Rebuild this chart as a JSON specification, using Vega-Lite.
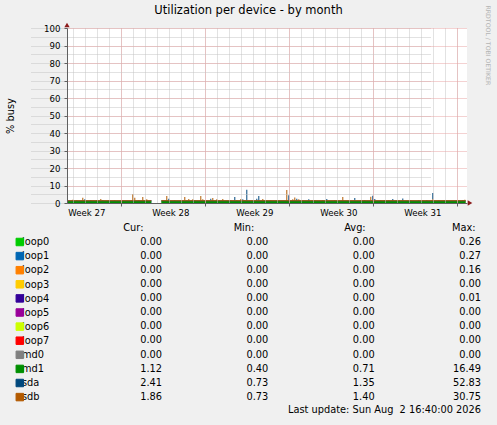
{
  "$schema": "https://vega.github.io/schema/vega-lite/v6.json",
  "width": 497,
  "height": 425,
  "padding": 0,
  "autosize": {"type": "none"},
  "background": "#f0f0f0",
  "config": {"font": "DejaVu Sans", "view": {"stroke": null, "fill": null}},
  "title": {
    "text": "Utilization per device - by month",
    "anchor": "middle", "frame": "group", "offset": 0, "dy": 25,
    "baseline": "alphabetic", "fontSize": 11.5, "fontWeight": "normal", "color": "#000000"
  },
  "datasets": {
    "spikes": [
      {"dev": "sda", "t": "2026-07-01T20:00:00Z", "v": 2.1},
      {"dev": "sda", "t": "2026-07-02T08:00:00Z", "v": 1.7},
      {"dev": "sda", "t": "2026-07-03T08:00:00Z", "v": 1.7},
      {"dev": "sda", "t": "2026-07-07T08:00:00Z", "v": 1.7},
      {"dev": "sda", "t": "2026-07-08T20:00:00Z", "v": 2.5},
      {"dev": "sda", "t": "2026-07-10T08:00:00Z", "v": 1.5},
      {"dev": "sda", "t": "2026-07-11T00:00:00Z", "v": 1.7},
      {"dev": "sda", "t": "2026-07-12T08:00:00Z", "v": 2.5},
      {"dev": "sda", "t": "2026-07-14T00:00:00Z", "v": 1.7},
      {"dev": "sda", "t": "2026-07-14T08:00:00Z", "v": 3.4},
      {"dev": "sda", "t": "2026-07-15T00:00:00Z", "v": 2.1},
      {"dev": "sda", "t": "2026-07-15T08:00:00Z", "v": 7.6},
      {"dev": "sda", "t": "2026-07-16T04:00:00Z", "v": 2.5},
      {"dev": "sda", "t": "2026-07-16T08:00:00Z", "v": 4.0},
      {"dev": "sda", "t": "2026-07-18T20:00:00Z", "v": 4.4},
      {"dev": "sda", "t": "2026-07-19T12:00:00Z", "v": 2.5},
      {"dev": "sda", "t": "2026-07-20T12:00:00Z", "v": 2.2},
      {"dev": "sda", "t": "2026-07-21T16:00:00Z", "v": 1.7},
      {"dev": "sda", "t": "2026-07-22T00:00:00Z", "v": 2.3},
      {"dev": "sda", "t": "2026-07-24T08:00:00Z", "v": 2.9},
      {"dev": "sda", "t": "2026-07-25T04:00:00Z", "v": 1.7},
      {"dev": "sda", "t": "2026-07-25T20:00:00Z", "v": 4.2},
      {"dev": "sda", "t": "2026-07-26T00:00:00Z", "v": 2.3},
      {"dev": "sda", "t": "2026-07-27T12:00:00Z", "v": 2.3},
      {"dev": "sda", "t": "2026-07-28T08:00:00Z", "v": 2.6},
      {"dev": "sda", "t": "2026-07-29T16:00:00Z", "v": 1.7},
      {"dev": "sda", "t": "2026-07-30T08:00:00Z", "v": 1.7},
      {"dev": "sda", "t": "2026-07-30T20:00:00Z", "v": 3.6},
      {"dev": "sda", "t": "2026-08-02T08:00:00Z", "v": 1.7},
      {"dev": "sdb", "t": "2026-06-30T20:00:00Z", "v": 1.9},
      {"dev": "sdb", "t": "2026-07-01T04:00:00Z", "v": 1.7},
      {"dev": "sdb", "t": "2026-07-01T16:00:00Z", "v": 3.0},
      {"dev": "sdb", "t": "2026-07-02T20:00:00Z", "v": 1.7},
      {"dev": "sdb", "t": "2026-07-03T04:00:00Z", "v": 2.3},
      {"dev": "sdb", "t": "2026-07-03T20:00:00Z", "v": 1.7},
      {"dev": "sdb", "t": "2026-07-04T08:00:00Z", "v": 1.7},
      {"dev": "sdb", "t": "2026-07-05T20:00:00Z", "v": 5.1},
      {"dev": "sdb", "t": "2026-07-06T00:00:00Z", "v": 3.0},
      {"dev": "sdb", "t": "2026-07-06T08:00:00Z", "v": 1.7},
      {"dev": "sdb", "t": "2026-07-06T16:00:00Z", "v": 3.4},
      {"dev": "sdb", "t": "2026-07-07T00:00:00Z", "v": 2.1},
      {"dev": "sdb", "t": "2026-07-08T16:00:00Z", "v": 4.0},
      {"dev": "sdb", "t": "2026-07-09T08:00:00Z", "v": 1.7},
      {"dev": "sdb", "t": "2026-07-10T04:00:00Z", "v": 3.4},
      {"dev": "sdb", "t": "2026-07-10T12:00:00Z", "v": 2.3},
      {"dev": "sdb", "t": "2026-07-10T20:00:00Z", "v": 2.1},
      {"dev": "sdb", "t": "2026-07-11T12:00:00Z", "v": 4.0},
      {"dev": "sdb", "t": "2026-07-11T16:00:00Z", "v": 2.1},
      {"dev": "sdb", "t": "2026-07-12T12:00:00Z", "v": 2.9},
      {"dev": "sdb", "t": "2026-07-12T20:00:00Z", "v": 2.1},
      {"dev": "sdb", "t": "2026-07-13T08:00:00Z", "v": 2.3},
      {"dev": "sdb", "t": "2026-07-14T12:00:00Z", "v": 1.7},
      {"dev": "sdb", "t": "2026-07-14T20:00:00Z", "v": 2.3},
      {"dev": "sdb", "t": "2026-07-15T04:00:00Z", "v": 1.7},
      {"dev": "sdb", "t": "2026-07-16T16:00:00Z", "v": 2.3},
      {"dev": "sdb", "t": "2026-07-17T08:00:00Z", "v": 1.7},
      {"dev": "sdb", "t": "2026-07-18T16:00:00Z", "v": 7.4},
      {"dev": "sdb", "t": "2026-07-19T04:00:00Z", "v": 2.1},
      {"dev": "sdb", "t": "2026-07-19T08:00:00Z", "v": 3.2},
      {"dev": "sdb", "t": "2026-07-19T16:00:00Z", "v": 2.1},
      {"dev": "sdb", "t": "2026-07-21T00:00:00Z", "v": 1.7},
      {"dev": "sdb", "t": "2026-07-22T16:00:00Z", "v": 1.7},
      {"dev": "sdb", "t": "2026-07-23T08:00:00Z", "v": 3.4},
      {"dev": "sdb", "t": "2026-07-24T20:00:00Z", "v": 1.7},
      {"dev": "sdb", "t": "2026-07-25T16:00:00Z", "v": 3.6},
      {"dev": "sdb", "t": "2026-07-26T12:00:00Z", "v": 1.7},
      {"dev": "sdb", "t": "2026-07-26T20:00:00Z", "v": 1.7},
      {"dev": "sdb", "t": "2026-07-27T04:00:00Z", "v": 1.7},
      {"dev": "sdb", "t": "2026-07-29T00:00:00Z", "v": 1.7},
      {"dev": "sdb", "t": "2026-07-30T20:00:00Z", "v": 2.1},
      {"dev": "sdb", "t": "2026-07-31T08:00:00Z", "v": 1.7},
      {"dev": "sdb", "t": "2026-08-02T00:00:00Z", "v": 1.7},
      {"dev": "sdb", "t": "2026-08-02T12:00:00Z", "v": 1.9}
    ],
    "lines": [
      {"dev": "md1", "t": "2026-06-30T12:00:00Z", "v": 0.55},
      {"dev": "md1", "t": "2026-07-07T12:00:00Z", "v": 0.55},
      {"dev": "md1", "t": "2026-07-07T14:00:00Z", "v": null},
      {"dev": "md1", "t": "2026-07-08T08:00:00Z", "v": 0.55},
      {"dev": "md1", "t": "2026-08-02T16:40:00Z", "v": 0.55},
      {"dev": "sda", "t": "2026-06-30T12:00:00Z", "v": 1.3},
      {"dev": "sda", "t": "2026-07-07T12:00:00Z", "v": 1.3},
      {"dev": "sda", "t": "2026-07-07T14:00:00Z", "v": null},
      {"dev": "sda", "t": "2026-07-08T08:00:00Z", "v": 1.3},
      {"dev": "sda", "t": "2026-08-02T16:40:00Z", "v": 1.3},
      {"dev": "sdb", "t": "2026-06-30T12:00:00Z", "v": 1.3},
      {"dev": "sdb", "t": "2026-07-07T12:00:00Z", "v": 1.3},
      {"dev": "sdb", "t": "2026-07-07T14:00:00Z", "v": null},
      {"dev": "sdb", "t": "2026-07-08T08:00:00Z", "v": 1.3},
      {"dev": "sdb", "t": "2026-08-02T16:40:00Z", "v": 1.3}
    ],
    "legend": [
      {"dev": "loop0", "Cur": 0, "Min": 0, "Avg": 0, "Max": 0.26},
      {"dev": "loop1", "Cur": 0, "Min": 0, "Avg": 0, "Max": 0.27},
      {"dev": "loop2", "Cur": 0, "Min": 0, "Avg": 0, "Max": 0.16},
      {"dev": "loop3", "Cur": 0, "Min": 0, "Avg": 0, "Max": 0.0},
      {"dev": "loop4", "Cur": 0, "Min": 0, "Avg": 0, "Max": 0.01},
      {"dev": "loop5", "Cur": 0, "Min": 0, "Avg": 0, "Max": 0.0},
      {"dev": "loop6", "Cur": 0, "Min": 0, "Avg": 0, "Max": 0.0},
      {"dev": "loop7", "Cur": 0, "Min": 0, "Avg": 0, "Max": 0.0},
      {"dev": "md0", "Cur": 0, "Min": 0, "Avg": 0, "Max": 0.0},
      {"dev": "md1", "Cur": 1.12, "Min": 0.40, "Avg": 0.71, "Max": 16.49},
      {"dev": "sda", "Cur": 2.41, "Min": 0.73, "Avg": 1.35, "Max": 52.83},
      {"dev": "sdb", "Cur": 1.86, "Min": 0.73, "Avg": 1.40, "Max": 30.75}
    ]
  },
  "layer": [
    {
      "layer": [
        {
          "data": {"values": [{}]},
          "mark": {"type": "rect", "color": "#ffffff"},
          "encoding": {
            "x": {
              "datum": {"year": 2026, "month": 6, "date": 30, "hours": 11, "minutes": 24, "utc": true}, "type": "temporal",
              "axis": {
                "orient": "top", "offset": -28, "tickCount": {"interval": "day", "step": 1},
                "grid": true, "gridColor": "#c4c4c4", "gridDash": [1, 1],
                "labels": false, "ticks": false, "domain": false, "title": null, "zindex": 1
              }
            },
            "x2": {"datum": {"year": 2026, "month": 8, "date": 2, "hours": 19, "minutes": 24, "utc": true}},
            "y": {"datum": 0, "type": "quantitative", "axis": null},
            "y2": {"datum": 100}
          }
        },
        {
          "data": {"name": "spikes"},
          "mark": {"type": "bar", "clip": false},
          "encoding": {
            "x": {
              "field": "t", "type": "temporal",
              "timeUnit": {"unit": "yearmonthdatehours", "step": 4, "utc": true},
              "scale": {"type": "utc", "nice": false, "range": [67, 467],
                "domain": [{"year": 2026, "month": 6, "date": 30, "hours": 11, "minutes": 24, "utc": true},
                           {"year": 2026, "month": 8, "date": 2, "hours": 19, "minutes": 24, "utc": true}]},
              "axis": {
                "orient": "top", "offset": -28, "tickCount": {"interval": "week", "step": 1},
                "grid": true, "gridColor": "#e8a4a4", "gridDash": [1, 1],
                "labels": false, "ticks": false, "domain": false, "title": null, "zindex": 1
              }
            },
            "y": {
              "field": "v", "type": "quantitative",
              "scale": {"domain": [0, 100], "range": [203, 28], "nice": false},
              "axis": {
                "orient": "right", "offset": -30,
                "values": [0, 5, 10, 15, 20, 25, 30, 35, 40, 45, 50, 55, 60, 65, 70, 75, 80, 85, 90, 95, 100],
                "grid": true, "gridColor": "#c4c4c4", "gridDash": [1, 1],
                "labels": false, "ticks": false, "domain": false,
                "title": "RRDTOOL / TOBI OETIKER", "titleX": 20.5, "titleY": 5, "titleAngle": 90,
                "titleAlign": "left", "titleBaseline": "middle", "titleFontSize": 6.2,
                "titleFontWeight": "normal", "titleColor": "#b4b4b4", "zindex": 1
              }
            },
            "color": {
              "field": "dev", "type": "nominal",
              "scale": {
                "domain": ["loop0", "loop1", "loop2", "loop3", "loop4", "loop5", "loop6", "loop7", "md0", "md1", "sda", "sdb"],
                "range": ["#00cc00", "#0066b3", "#ff8000", "#ffcc00", "#330099", "#990099", "#ccff00", "#ff0000", "#808080", "#008f00", "#00487d", "#b35a00"]
              },
              "legend": {
                "orient": "none", "legendX": 15.3, "legendY": 237.5, "direction": "vertical",
                "title": null, "labelExpr": "''", "labelFontSize": 4, "labelOffset": 0,
                "symbolType": "square", "symbolSize": 56, "symbolStrokeColor": "#000000",
                "symbolStrokeWidth": 1, "symbolOpacity": 1, "symbolOffset": 0,
                "rowPadding": 1.1, "padding": 0, "offset": 0,
                "encode": {"symbols": {"update": {"stroke": {"value": "#000000"}, "strokeWidth": {"value": 1}}}}
              }
            }
          }
        },
        {
          "data": {"name": "lines"},
          "transform": [{"filter": "datum.dev == 'md1'"}],
          "mark": {"type": "line", "strokeWidth": 2, "clip": false},
          "encoding": {
            "x": {
              "field": "t", "type": "temporal",
              "scale": {"type": "utc", "nice": false, "range": [67, 467],
                "domain": [{"year": 2026, "month": 6, "date": 30, "hours": 11, "minutes": 24, "utc": true},
                           {"year": 2026, "month": 8, "date": 2, "hours": 19, "minutes": 24, "utc": true}]},
              "axis": {
                "orient": "bottom", "offset": -222, "tickCount": {"interval": "week", "step": 1},
                "grid": false,
                "labelExpr": "'Week ' + utcFormat(datum.value, '%V')",
                "labelOffset": -35, "labelPadding": 2, "labelFlush": false, "labelFontSize": 8.6,
                "labelColor": "#000000", "tickSize": 3, "tickColor": "#606060",
                "domainColor": "#606060", "title": null, "zindex": 1
              }
            },
            "y": {
              "field": "v", "type": "quantitative",
              "scale": {"domain": [0, 100], "range": [203, 28], "nice": false},
              "axis": {
                "orient": "left", "offset": -67,
                "values": [0, 10, 20, 30, 40, 50, 60, 70, 80, 90, 100],
                "grid": true, "gridColor": "#e8a4a4", "gridDash": [1, 1],
                "tickSize": 3, "tickColor": "#606060", "domainColor": "#606060",
                "labelPadding": 4, "labelFontSize": 8.6, "labelColor": "#000000",
                "title": "% busy", "titleX": -56.5, "titleY": 115.5, "titleAngle": -90,
                "titleAlign": "center", "titleBaseline": "middle", "titleFontSize": 9.8,
                "titleFontWeight": "normal", "titleColor": "#000000", "zindex": 1
              }
            },
            "color": {"field": "dev", "type": "nominal", "legend": null}
          }
        },
        {
          "data": {"name": "lines"},
          "transform": [{"filter": "datum.dev != 'md1'"}],
          "mark": {"type": "line", "strokeWidth": 1, "clip": false},
          "encoding": {
            "x": {"field": "t", "type": "temporal", "axis": null},
            "y": {"field": "v", "type": "quantitative", "axis": null},
            "color": {"field": "dev", "type": "nominal", "legend": null}
          }
        },
        {
          "data": {"values": [{}]},
          "mark": {"type": "point", "shape": "triangle-up", "filled": true, "size": 28, "color": "#8c1c1c", "opacity": 1},
          "encoding": {
            "x": {"datum": {"year": 2026, "month": 6, "date": 30, "hours": 11, "minutes": 24, "utc": true}, "type": "temporal", "axis": null},
            "y": {"datum": 100, "type": "quantitative", "axis": null},
            "yOffset": {"value": -3}
          }
        },
        {
          "data": {"values": [{}]},
          "mark": {"type": "point", "shape": "triangle-right", "filled": true, "size": 28, "color": "#8c1c1c", "opacity": 1},
          "encoding": {
            "x": {"datum": {"year": 2026, "month": 8, "date": 2, "hours": 19, "minutes": 24, "utc": true}, "type": "temporal", "axis": null},
            "y": {"datum": 0, "type": "quantitative", "axis": null},
            "xOffset": {"value": 3}
          }
        }
      ],
      "resolve": {"axis": {"x": "independent", "y": "independent"}}
    },
    {
      "layer": [
        {
          "data": {"name": "legend"},
          "transform": [{"fold": ["Cur", "Min", "Avg", "Max"], "as": ["stat", "value"]}],
          "mark": {"type": "text", "align": "right", "baseline": "middle", "fontSize": 9.8, "color": "#000000"},
          "encoding": {
            "x": {
              "field": "stat", "type": "nominal",
              "scale": {"type": "point", "domain": ["Cur", "Min", "Avg", "Max"], "range": [162, 481], "padding": 0},
              "axis": {
                "orient": "top", "offset": -227.7, "ticks": false, "tickSize": 0, "domain": false, "grid": false,
                "labelPadding": 0, "labelBaseline": "middle", "labelAlign": "right", "labelAngle": 0,
                "labelExpr": "datum.label + ':'",
                "labelOffset": {"condition": [
                  {"test": "datum.value == 'Cur'", "value": -19},
                  {"test": "datum.value == 'Min'", "value": -14.5},
                  {"test": "datum.value == 'Avg'", "value": -9.5}
                ], "value": -6},
                "labelFontSize": 9.8, "labelColor": "#000000", "title": null
              }
            },
            "y": {
              "field": "dev", "type": "nominal",
              "scale": {"type": "point", "domain": ["loop0", "loop1", "loop2", "loop3", "loop4", "loop5", "loop6", "loop7", "md0", "md1", "sda", "sdb"], "range": [241.7, 396.8], "padding": 0},
              "axis": {
                "orient": "left", "offset": -21.5, "ticks": false, "tickSize": 0, "domain": false, "grid": false,
                "labelPadding": 0, "labelAlign": "left", "labelBaseline": "middle",
                "labelFontSize": 9.8, "labelColor": "#000000", "title": null
              }
            },
            "text": {"field": "value", "type": "quantitative", "format": ".2f"}
          }
        },
        {
          "data": {"values": [{"note": "Last update: Sun Aug\u00a0 2 16:40:00 2026"}]},
          "mark": {"type": "text", "align": "right", "baseline": "middle", "fontSize": 9.8, "color": "#000000"},
          "encoding": {
            "x": {"datum": "Max", "type": "nominal"},
            "y": {"datum": "sdb", "type": "nominal"},
            "yOffset": {"value": 13},
            "text": {"field": "note", "type": "nominal"}
          }
        }
      ]
    }
  ],
  "resolve": {"scale": {"x": "independent", "y": "independent"}}
}
